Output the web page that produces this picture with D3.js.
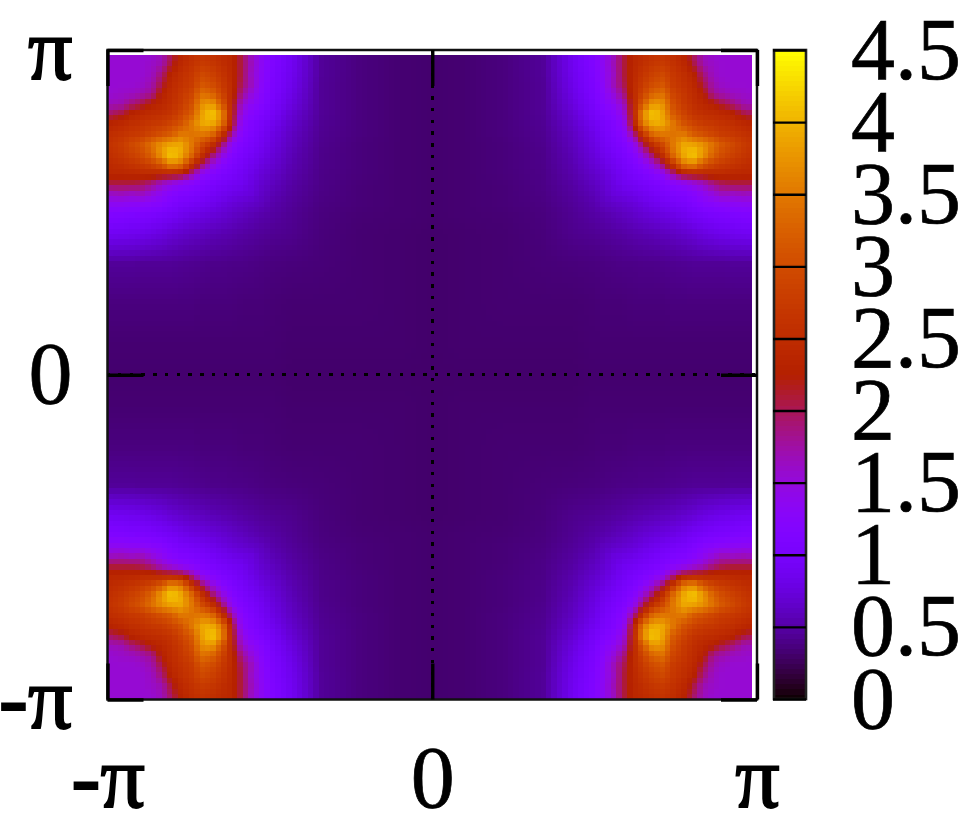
<!DOCTYPE html>
<html><head><meta charset="utf-8">
<script src="https://cdn.jsdelivr.net/npm/d3@7/dist/d3.min.js"></script>
<style>html,body{margin:0;padding:0;background:#fff}svg{display:block}text{font-family:"Liberation Serif",serif;fill:#000;stroke:#000;stroke-width:.7px}</style>
</head><body><svg id="c" width="980" height="820"></svg>
<script>
// Distance from the zone edge at which each quadrant sample sits (325 units = pi)
const sampleOffsets = [0,14,24,34,44,54,64,74,84,94,104,114,124,134,144,154,164,184,214,254,294,325];
// Upper triangle of the symmetric quadrant; row i starts at column i
const quadrantRows = [
 [1.55,1.55,1.55,1.55,1.55,1.65,1.95,2.32,2.5,2.6,2.55,2.45,2.4,2.05,1.6,1.35,1.15,.9,.46,.37,.33,.32],
 [1.55,1.55,1.55,1.6,1.7,2.1,2.45,2.6,2.75,2.7,2.55,2.4,2.05,1.65,1.35,1.13,.88,.46,.37,.33,.32],
 [1.55,1.55,1.62,1.9,2.35,2.55,2.7,2.95,2.85,2.65,2.42,2.05,1.6,1.32,1.1,.86,.46,.37,.33,.32],
 [1.58,1.7,2.05,2.45,2.6,2.75,3.1,3.0,2.75,2.45,2.0,1.65,1.3,1.08,.84,.45,.37,.33,.32],
 [1.8,2.3,2.5,2.7,2.9,3.4,3.3,2.9,2.45,1.85,1.5,1.25,1.05,.8,.45,.37,.33,.32],
 [2.4,2.55,2.75,3.05,3.7,3.85,3.2,2.4,1.6,1.35,1.2,1.0,.76,.45,.37,.33,.32],
 [2.65,2.9,3.2,3.85,4.2,3.75,2.35,1.45,1.2,1.08,.95,.7,.45,.37,.33,.32],
 [3.1,3.5,3.9,3.95,3.5,2.25,1.3,1.12,1.0,.88,.66,.44,.37,.33,.32],
 [3.45,3.5,3.4,2.7,1.8,1.22,1.08,.95,.82,.62,.43,.37,.33,.32],
 [3.0,2.65,2.0,1.35,1.12,1.02,.9,.78,.6,.42,.36,.33,.32],
 [2.05,1.55,1.2,1.05,.95,.85,.74,.57,.41,.36,.33,.32],
 [1.25,1.08,.98,.88,.78,.7,.55,.41,.36,.33,.32],
 [1.02,.92,.82,.72,.65,.53,.4,.36,.33,.32],
 [.88,.78,.68,.61,.5,.4,.35,.33,.32],
 [.74,.64,.57,.48,.39,.35,.33,.32],
 [.6,.53,.46,.38,.35,.33,.32],
 [.5,.44,.37,.34,.33,.32],
 [.42,.36,.33,.32,.31],
 [.35,.33,.32,.31],
 [.33,.32,.31],
 [.32,.31],
 [.31]
];
const axisTicks = [-Math.PI, 0, Math.PI];
const axisLabels = ["-π", "0", "π"];
const barTicks = [0,.5,1,1.5,2,2.5,3,3.5,4,4.5];
const barLabels = ["0","0.5","1","1.5","2","2.5","3","3.5","4","4.5"];

const svg = d3.select("#c");
const x = d3.scaleLinear([-Math.PI, Math.PI], [107.5, 757]);
const y = d3.scaleLinear([-Math.PI, Math.PI], [699.5, 50]);
const barY = d3.scaleLinear([0, 4.5], [699, 50]);
const frac = d3.scaleLinear([0, 4.5], [0, 1]).clamp(true);
const color = v => { const t = frac(v);
  return d3.rgb(255*Math.sqrt(t), 255*t*t*t, 255*Math.max(0, Math.sin(2*Math.PI*t))) + ""; };

const val = (i,j) => i<=j ? quadrantRows[i][j-i] : quadrantRows[j][i-j];
const offset = d3.scaleLinear([0, Math.PI], [325, 0]); // |k| -> units from edge
function lookup(kx, ky){
  const a = offset(Math.abs(kx)), b = offset(Math.abs(ky));
  const n = sampleOffsets.length-1;
  const i = Math.min(n-1, d3.bisectRight(sampleOffsets, a)-1), j = Math.min(n-1, d3.bisectRight(sampleOffsets, b)-1);
  const s = (a-sampleOffsets[i])/(sampleOffsets[i+1]-sampleOffsets[i]);
  const u = (b-sampleOffsets[j])/(sampleOffsets[j+1]-sampleOffsets[j]);
  return (1-u)*((1-s)*val(j,i)+s*val(j,i+1)) + u*((1-s)*val(j+1,i)+s*val(j+1,i+1));
}
const nCells = 120, step = 2*Math.PI/nCells;
const cells = [];
for (let r=0;r<nCells-1;r++) for (let c=0;c<nCells-1;c++){
  const k0=-Math.PI+c*step, q0=-Math.PI+r*step;
  cells.push({k0,q0,v:lookup(k0+step/2,q0+step/2)});
}
svg.append("g").attr("shape-rendering","crispEdges").selectAll("rect").data(cells).join("rect")
  .attr("x",d=>Math.round(x(d.k0))).attr("y",d=>Math.round(y(d.q0+step)))
  .attr("width",d=>Math.round(x(d.k0+step))-Math.round(x(d.k0)))
  .attr("height",d=>Math.round(y(d.q0))-Math.round(y(d.q0+step)))
  .attr("fill",d=>color(d.v));

// dotted zero lines
svg.append("line").attr("x1",x(-Math.PI)).attr("x2",x(Math.PI)).attr("y1",y(0)).attr("y2",y(0))
  .attr("stroke","#000").attr("stroke-width",3).attr("stroke-dasharray","3.4 8.34").attr("stroke-dashoffset",1.3).attr("shape-rendering","crispEdges");
svg.append("line").attr("x1",x(0)).attr("x2",x(0)).attr("y1",y(-Math.PI)).attr("y2",y(Math.PI))
  .attr("stroke","#000").attr("stroke-width",3).attr("stroke-dasharray","3.4 8.34").attr("stroke-dashoffset",-1.1).attr("shape-rendering","crispEdges");

// frame
svg.append("rect").attr("x",x(-Math.PI)).attr("y",y(Math.PI)).attr("width",x(Math.PI)-x(-Math.PI)).attr("height",y(-Math.PI)-y(Math.PI))
  .attr("fill","none").attr("stroke","#111").attr("stroke-width",2.5);

function styleAxis(g){
  g.select(".domain").remove();
  g.selectAll("line").attr("stroke","#000").attr("stroke-width",3.4);
  g.selectAll("text").attr("font-size",88);
  g.selectAll("text").filter(d=>d!==0).style("stroke-width","1.8px");
}
const lab = d => axisLabels[axisTicks.indexOf(d)];
svg.append("g").attr("transform",`translate(0,${y(-Math.PI)})`)
  .call(d3.axisBottom(x).tickValues(axisTicks).tickFormat(lab).tickSizeInner(-36).tickSizeOuter(0).tickPadding(0)).call(styleAxis)
  .selectAll("text").attr("y",107.5).attr("dy",0);
svg.append("g").attr("transform",`translate(0,${y(Math.PI)})`).call(d3.axisTop(x).tickValues(axisTicks).tickFormat("").tickSizeInner(-36).tickSizeOuter(0)).call(styleAxis);
svg.append("g").attr("transform",`translate(${x(-Math.PI)},0)`).call(d3.axisLeft(y).tickValues(axisTicks).tickFormat(lab).tickSizeInner(-36).tickSizeOuter(0).tickPadding(35)).call(styleAxis)
  .selectAll("text").attr("y",28).attr("dy",0).attr("text-anchor","end");
svg.append("g").attr("transform",`translate(${x(Math.PI)},0)`).call(d3.axisRight(y).tickValues(axisTicks).tickFormat("").tickSizeInner(-36).tickSizeOuter(0)).call(styleAxis);

// colour bar
const levels = d3.range(0, 4.5, 4.5/128);
svg.append("g").attr("shape-rendering","crispEdges").selectAll("rect").data(levels).join("rect")
  .attr("x",774).attr("width",32)
  .attr("y",d=>barY(d+4.5/128)).attr("height",d=>barY(d)-barY(d+4.5/128)+.6)
  .attr("fill",d=>color(d+2.25/128));
svg.append("rect").attr("x",774).attr("y",50).attr("width",32).attr("height",649)
  .attr("fill","none").attr("stroke","#222").attr("stroke-width",2.6);
const bg = svg.append("g").attr("transform","translate(806,0)")
  .call(d3.axisRight(barY).tickValues(barTicks).tickFormat((d,i)=>barLabels[i]).tickSizeInner(-33).tickSizeOuter(0).tickPadding(45));
bg.select(".domain").remove();
bg.selectAll("line").attr("stroke","#000").attr("stroke-width",2.4);
bg.selectAll("text").attr("font-size",88).attr("text-anchor","start").attr("y",28).attr("dy",0);
</script></body></html>
